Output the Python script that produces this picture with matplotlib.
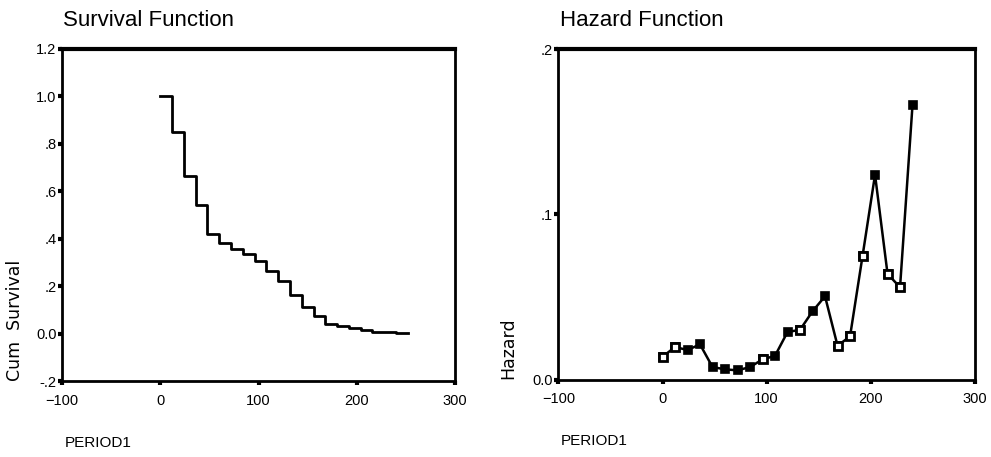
import matplotlib
matplotlib.use("Agg")
import matplotlib.pyplot as plt

# survival step data (period start, cum survival)
surv_t = [0, 12, 24, 36, 48, 60, 72, 84, 96, 108, 120, 132, 144, 156, 168,
          180, 192, 204, 216, 228, 240, 252]
surv_s = [1.0, 0.848, 0.663, 0.542, 0.418, 0.380, 0.355, 0.334, 0.305, 0.263,
          0.221, 0.161, 0.111, 0.072, 0.040, 0.033, 0.024, 0.014, 0.007, 0.005,
          0.002, 0.002]

# hazard data
haz_t = [0, 12, 24, 36, 48, 60, 72, 84, 96, 108, 120, 132, 144, 156, 168,
         180, 192, 204, 216, 228, 240]
haz_h = [0.0139, 0.0198, 0.0180, 0.0214, 0.0077, 0.0063, 0.0057, 0.0077,
         0.0123, 0.0145, 0.0289, 0.0302, 0.0414, 0.0505, 0.0206, 0.0262,
         0.0748, 0.1240, 0.0641, 0.0559, 0.1664]
haz_open = [0, 1, 8, 11, 14, 15, 16, 18, 19]

xticks = [-100, 0, 100, 200, 300]
surv_yticks = [-0.2, 0.0, 0.2, 0.4, 0.6, 0.8, 1.0, 1.2]
surv_ylabels = ["-.2", "0.0", ".2", ".4", ".6", ".8", "1.0", "1.2"]
haz_yticks = [0.0, 0.1, 0.2]
haz_ylabels = ["0.0", ".1", ".2"]

plt.rcParams["font.family"] = ["Liberation Sans", "DejaVu Sans"]

fig = plt.figure(figsize=(9.91, 4.57), dpi=100)
ax1 = fig.add_axes([0.0626, 0.1663, 0.3965, 0.7265])
ax2 = fig.add_axes([0.5634, 0.1690, 0.4205, 0.7236])


def style(ax):
    for side in ["left", "bottom", "right"]:
        ax.spines[side].set_linewidth(2.0)
    ax.spines["top"].set_linewidth(3.0)
    ax.tick_params(axis="both", direction="out", length=3, width=3,
                   labelsize=10.5, pad=1, colors="black")
    ax.tick_params(axis="x", pad=6)
    ax.set_xlim(-100, 300)
    ax.set_xticks(xticks)
    ax.set_xticklabels(["\u2212100", "0", "100", "200", "300"])


ax1.step(surv_t, surv_s, where="post", color="black", lw=2)
ax1.set_ylim(-0.2, 1.2)
ax1.set_yticks(surv_yticks)
ax1.set_yticklabels(surv_ylabels)
style(ax1)

ax2.plot(haz_t, haz_h, color="black", lw=1.8, marker="s", ms=5.5,
         mfc="black", mec="black", mew=1.2)
ax2.plot([haz_t[i] for i in haz_open], [haz_h[i] for i in haz_open],
         ls="none", marker="s", ms=5.5, mfc="white", mec="black", mew=2.0)
ax2.set_ylim(0.0, 0.2)
ax2.set_yticks(haz_yticks)
ax2.set_yticklabels(haz_ylabels)
style(ax2)

fig.text(63 / 991, 1 - 20 / 457, "Survival Function", fontsize=16,
         ha="left", va="center")
fig.text(560 / 991, 1 - 20 / 457, "Hazard Function", fontsize=16,
         ha="left", va="center")
fig.text(15 / 991, 1 - 320 / 457, "Cum  Survival", fontsize=12.5,
         rotation=90, ha="center", va="center", family="DejaVu Sans")
fig.text(508 / 991, 1 - 348 / 457, "Hazard", fontsize=12.5,
         rotation=90, ha="center", va="center", family="DejaVu Sans")
fig.text(65 / 991, 1 - 443 / 457, "PERIOD1", fontsize=11,
         ha="left", va="center")
fig.text(561 / 991, 1 - 441 / 457, "PERIOD1", fontsize=11,
         ha="left", va="center")

fig.savefig("out.png", dpi=100)
